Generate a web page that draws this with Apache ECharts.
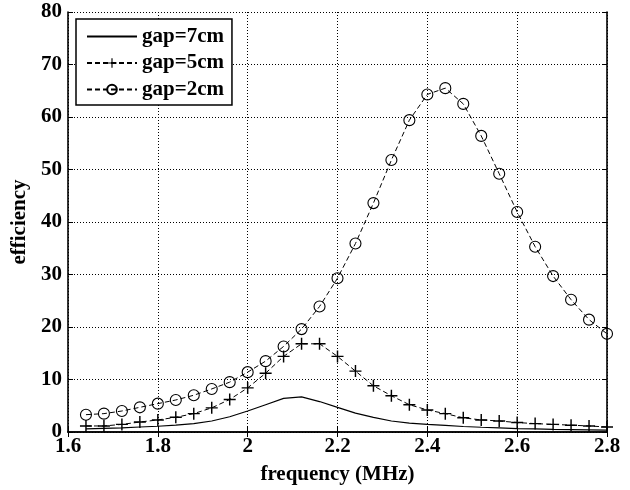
<!DOCTYPE html>
<html>
<head>
<meta charset="utf-8">
<script src="https://cdn.jsdelivr.net/npm/echarts@6/dist/echarts.min.js"></script>
<style>html,body{margin:0;padding:0;background:#fff;}#c{width:630px;height:490px;}</style>
</head>
<body>
<div id="c"></div>
<script>
var freq = [1.64,1.68,1.72,1.76,1.80,1.84,1.88,1.92,1.96,2.00,2.04,2.08,2.12,2.16,2.20,2.24,2.28,2.32,2.36,2.40,2.44,2.48,2.52,2.56,2.60,2.64,2.68,2.72,2.76,2.80];
var gap7 = [0.6,0.7,0.8,0.95,1.1,1.3,1.6,2.1,2.9,4.0,5.2,6.4,6.7,5.8,4.7,3.6,2.8,2.1,1.7,1.45,1.25,1.05,0.9,0.8,0.65,0.6,0.5,0.45,0.4,0.35];
var gap5 = [1.15,1.15,1.45,1.9,2.3,2.8,3.5,4.6,6.2,8.4,11.2,14.4,16.8,16.8,14.4,11.6,8.8,6.9,5.2,4.2,3.5,2.7,2.3,2.1,1.8,1.6,1.45,1.3,1.15,0.95];
var gap2 = [3.3,3.5,4.0,4.7,5.4,6.1,7.0,8.2,9.5,11.4,13.5,16.3,19.6,23.9,29.3,35.9,43.6,51.8,59.4,64.3,65.5,62.5,56.4,49.2,41.9,35.3,29.7,25.2,21.4,18.7];
var seriesNames = ['gap=7cm','gap=5cm','gap=2cm'];
var xName = 'frequency (MHz)';
var yName = 'efficiency';

function pairs(ys){ return freq.map(function(x,i){ return [x, ys[i]]; }); }

var font = 'Liberation Serif';
var fs = 21;
var plusPath = 'path://M0,4.4H4.4V0H5.6V4.4H10V5.6H5.6V10H4.4V5.6H0Z';

var chart = echarts.init(document.getElementById('c'), null, {renderer:'canvas'});
var axisLineStyle = {color:'#000', width:1.6};
var option = {
  backgroundColor:'#fff',
  animation:false,
  grid:{left:68, right:23, top:12, bottom:55, containLabel:false},
  legend:{
    left:76, top:19, orient:'vertical',
    padding:[7,8,5,10], itemGap:5.5, itemWidth:50, itemHeight:12,
    backgroundColor:'#fff', borderColor:'#000', borderWidth:1.5,
    textStyle:{fontFamily:font, fontWeight:'bold', fontSize:fs, color:'#000'},
    data:[
      {name:seriesNames[0], itemStyle:{opacity:0}},
      {name:seriesNames[1]},
      {name:seriesNames[2]}
    ]
  },
  xAxis:[{
    type:'value', min:1.6, max:2.8, interval:0.2, position:'bottom',
    name:xName, nameLocation:'middle', nameGap:32,
    nameTextStyle:{fontFamily:font, fontWeight:'bold', fontSize:fs, color:'#000'},
    axisLine:{lineStyle:axisLineStyle},
    axisTick:{inside:true, length:5, lineStyle:{color:'#000'}},
    axisLabel:{margin:4, fontFamily:font, fontWeight:'bold', fontSize:fs, color:'#000',
      formatter:function(v){ return String(parseFloat(v.toFixed(1))); }},
    splitLine:{show:true, lineStyle:{color:'#000', type:[1,2], width:1}}
  },{
    type:'value', min:1.6, max:2.8, interval:0.2, position:'top',
    axisLine:{lineStyle:axisLineStyle},
    axisTick:{inside:true, length:5, lineStyle:{color:'#000'}},
    axisLabel:{show:false}, splitLine:{show:false}
  }],
  yAxis:[{
    type:'value', min:0, max:80, interval:10, position:'left',
    name:yName, nameLocation:'middle', nameGap:35, nameRotate:90,
    nameTextStyle:{fontFamily:font, fontWeight:'bold', fontSize:fs, color:'#000'},
    axisLine:{show:true, lineStyle:axisLineStyle},
    axisTick:{show:true, inside:true, length:5, lineStyle:{color:'#000'}},
    axisLabel:{margin:6, fontFamily:font, fontWeight:'bold', fontSize:fs, color:'#000'},
    splitLine:{show:true, lineStyle:{color:'#000', type:[1,2], width:1}}
  },{
    type:'value', min:0, max:80, interval:10, position:'right',
    axisLine:{show:true, lineStyle:axisLineStyle},
    axisTick:{show:true, inside:true, length:5, lineStyle:{color:'#000'}},
    axisLabel:{show:false}, splitLine:{show:false}
  }],
  series:[{
    name:seriesNames[0], type:'line', data:pairs(gap7), symbol:'none',
    lineStyle:{color:'#000', width:1.2, type:'solid'}, itemStyle:{color:'#000'}
  },{
    name:seriesNames[1], type:'line', data:pairs(gap5), symbol:plusPath, symbolSize:12,
    lineStyle:{color:'#000', width:1, type:[5,3]}, itemStyle:{color:'#000', borderWidth:0}
  },{
    name:seriesNames[2], type:'line', data:pairs(gap2), symbol:'circle', symbolSize:11,
    lineStyle:{color:'#000', width:1, type:[5,3]}, itemStyle:{color:'rgba(255,255,255,0)', borderColor:'#000', borderWidth:1.1}
  }]
};
chart.setOption(option);
</script>
</body>
</html>
